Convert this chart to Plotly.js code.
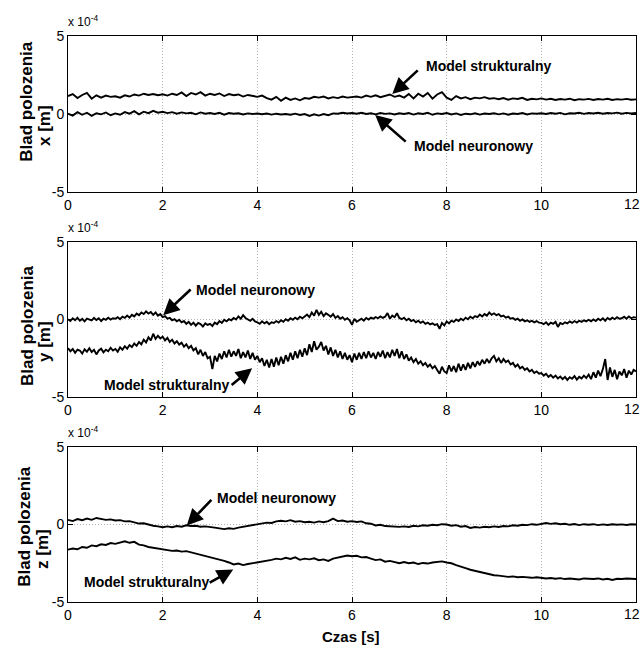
<!DOCTYPE html>
<html>
<head>
<meta charset="utf-8">
<script src="https://cdn.plot.ly/plotly-3.0.1.min.js"></script>
<style>html,body{margin:0;padding:0;background:#fff;}#chart{width:642px;height:645px;}</style>
</head>
<body>
<div id="chart"></div>
<script>
// Values in units of 1e-4 m. Panels x/z sampled every 0.1 s, panel y every 0.05 s (0..12 s).
const xStruct = [1.15,1.28,1.02,1.22,1.35,0.98,1.20,1.05,1.18,1.10,1.14,
 1.05,1.20,1.12,1.25,1.18,1.30,1.22,1.28,1.20,1.26,
 1.18,1.30,1.22,1.38,1.15,1.35,1.25,1.40,1.18,1.30,
 1.22,1.32,1.15,1.28,1.20,1.25,1.12,1.22,1.15,1.10,
 1.18,1.02,0.92,1.10,0.85,1.05,0.90,1.00,0.88,1.02,
 0.98,1.10,1.05,1.12,1.00,1.08,1.02,1.12,1.05,1.08,
 1.12,1.05,1.18,1.10,1.20,1.08,1.15,1.25,1.10,1.18,
 1.05,1.28,1.00,1.30,1.12,1.35,0.98,1.25,1.40,1.05,
 0.90,1.15,1.00,1.08,0.95,1.05,1.00,1.08,0.98,1.02,
 0.95,1.02,0.92,1.00,0.96,1.04,0.90,0.98,0.94,1.00,
 0.92,0.98,0.90,0.96,0.92,0.98,0.88,0.95,0.92,0.97,
 0.90,0.96,0.92,0.98,0.90,0.95,0.92,0.97,0.91,0.94];
const xNeuro = [0.02,-0.10,0.12,-0.05,0.08,-0.12,0.05,-0.02,0.10,-0.08,0.04,
 -0.05,0.12,0.02,0.18,-0.02,0.15,0.05,0.20,0.08,0.14,
 0.06,0.12,0.02,0.10,0.04,0.08,-0.02,0.10,0.02,0.06,
 0.00,0.08,-0.04,0.06,0.02,0.05,-0.03,0.04,0.00,0.03,
 -0.02,0.03,-0.04,0.02,-0.03,0.00,-0.05,0.02,-0.06,0.00,
 -0.12,-0.02,-0.10,0.00,-0.08,0.04,0.02,0.08,0.03,0.06,
 0.02,0.08,0.00,0.05,-0.02,0.06,0.01,0.04,-0.03,0.05,
 0.00,0.06,-0.04,0.05,0.00,0.08,-0.05,0.04,0.00,0.06,
 -0.03,0.04,-0.06,0.02,-0.02,0.05,-0.04,0.03,0.00,0.05,
 -0.02,0.04,-0.05,0.03,0.00,0.06,-0.03,0.04,0.02,0.05,
 0.00,0.06,0.02,0.07,-0.02,0.05,0.03,0.08,0.01,0.06,
 0.03,0.08,0.02,0.06,0.04,0.09,0.02,0.07,0.03,0.06];
const yNeuro = [0.02,-0.10,0.08,-0.05,0.12,-0.08,0.04,-0.12,0.06,0.00,-0.06,0.10,-0.04,0.08,-0.10,0.05,-0.02,0.12,0.00,0.08,
 0.05,0.15,0.02,0.18,0.10,0.25,0.12,0.30,0.20,0.38,0.28,0.45,0.35,0.52,0.38,0.48,0.30,0.45,0.25,0.35,
 0.15,0.22,0.05,0.10,-0.05,0.02,-0.12,-0.02,-0.18,-0.10,-0.28,-0.15,-0.35,-0.20,-0.40,-0.22,-0.30,-0.45,-0.25,-0.35,
 -0.28,-0.42,-0.20,-0.30,-0.10,-0.22,-0.02,-0.12,0.02,-0.05,0.10,0.00,0.20,0.05,0.28,0.10,0.02,-0.08,0.05,-0.12,
 -0.18,-0.28,-0.12,-0.25,-0.15,-0.30,-0.18,-0.22,-0.10,-0.20,-0.05,-0.15,0.02,-0.08,0.08,-0.02,0.12,0.02,0.18,0.08,
 0.20,0.32,0.15,0.45,0.25,0.62,0.30,0.50,0.22,0.40,0.30,0.18,0.35,0.10,0.22,0.05,0.15,-0.02,0.08,-0.05,
 -0.35,0.05,-0.15,-0.05,0.05,-0.08,0.10,0.00,0.12,0.05,0.15,0.08,0.20,0.10,0.18,0.42,0.05,0.25,0.15,0.40,
 0.10,0.02,0.12,-0.05,0.05,-0.10,-0.02,-0.18,-0.08,-0.22,-0.12,-0.28,-0.20,-0.32,-0.25,-0.35,-0.30,-0.60,-0.22,-0.38,
 -0.12,-0.25,-0.08,-0.15,0.00,-0.10,0.05,-0.05,0.12,0.02,0.18,0.08,0.22,0.15,0.32,0.20,0.35,0.25,0.45,0.30,
 0.40,0.28,0.35,0.20,0.25,0.12,0.18,0.05,0.10,-0.02,0.05,-0.08,0.00,-0.12,-0.05,-0.15,-0.08,-0.18,-0.10,-0.20,
 -0.22,-0.30,-0.18,-0.35,-0.20,-0.28,-0.15,-0.48,-0.22,-0.30,-0.18,-0.25,-0.12,-0.22,-0.10,-0.20,-0.08,-0.15,-0.05,-0.12,
 -0.02,-0.12,0.00,-0.10,0.05,-0.05,0.08,-0.08,0.10,0.00,0.12,0.02,0.15,0.05,0.08,0.18,0.05,0.20,0.08,0.15,
 0.12];
const yStruct = [-1.85,-2.05,-1.90,-2.15,-1.95,-2.00,-2.20,-1.92,-2.08,-1.85,-2.10,-1.95,-2.25,-2.00,-1.88,-2.12,-1.95,-2.05,-1.82,-2.00,
 -1.90,-2.08,-1.80,-1.95,-1.72,-1.88,-1.65,-1.78,-1.55,-1.70,-1.45,-1.60,-1.30,-1.48,-1.15,-1.35,-0.92,-1.25,-1.05,-1.22,
 -1.10,-1.35,-1.18,-1.45,-1.30,-1.55,-1.40,-1.62,-1.50,-1.75,-1.60,-1.85,-1.70,-2.00,-1.85,-2.25,-1.95,-2.35,-2.10,-2.50,
 -2.40,-3.20,-2.35,-2.70,-2.20,-2.55,-2.05,-2.45,-1.95,-2.40,-2.05,-2.35,-1.90,-2.50,-2.10,-2.45,-2.00,-2.55,-2.15,-2.60,
 -2.35,-2.75,-2.50,-3.00,-2.60,-3.10,-2.55,-3.05,-2.45,-2.95,-2.40,-2.85,-2.30,-2.70,-2.15,-2.60,-2.05,-2.50,-1.95,-2.40,
 -1.85,-2.30,-1.60,-2.10,-1.40,-1.95,-1.75,-1.45,-2.00,-1.70,-2.25,-1.80,-2.35,-1.95,-2.45,-2.05,-2.55,-2.15,-2.60,-2.30,
 -2.75,-2.20,-2.60,-2.15,-2.55,-2.10,-2.50,-2.05,-2.45,-2.15,-2.55,-2.10,-2.40,-2.00,-2.50,-2.10,-2.45,-1.95,-2.35,-1.90,
 -2.50,-2.05,-2.55,-2.25,-2.65,-2.45,-2.75,-2.55,-2.85,-2.70,-2.95,-2.80,-3.05,-2.90,-3.15,-3.00,-3.25,-3.50,-3.05,-3.35,
 -3.45,-2.95,-3.35,-3.00,-3.40,-2.85,-3.30,-2.90,-3.25,-2.80,-3.15,-2.75,-3.05,-2.70,-2.95,-2.60,-2.85,-2.55,-2.80,-2.50,
 -2.35,-2.70,-2.50,-2.80,-2.55,-2.75,-2.65,-2.90,-2.80,-3.05,-2.90,-3.15,-3.05,-3.25,-3.15,-3.35,-3.25,-3.45,-3.35,-3.50,
 -3.45,-3.62,-3.50,-3.70,-3.58,-3.75,-3.62,-3.80,-3.68,-3.85,-3.70,-3.90,-3.72,-3.82,-3.65,-3.88,-3.70,-3.80,-3.62,-3.78,
 -3.55,-3.85,-3.40,-3.75,-3.30,-3.65,-3.20,-2.55,-3.90,-3.10,-3.70,-3.25,-3.85,-3.35,-3.60,-3.20,-3.75,-3.30,-3.55,-3.25,
 -3.35];
const zNeuro = [0.30,0.22,0.35,0.28,0.38,0.30,0.42,0.35,0.30,0.33,0.26,
 0.28,0.20,0.22,0.12,0.06,0.08,-0.02,-0.08,-0.12,-0.18,
 -0.12,-0.18,-0.10,-0.14,-0.05,-0.10,-0.08,-0.14,-0.12,-0.18,
 -0.20,-0.25,-0.30,-0.24,-0.28,-0.20,-0.14,-0.08,-0.04,0.04,
 0.06,0.12,0.10,0.20,0.24,0.20,0.28,0.18,0.22,0.15,
 0.18,0.12,0.20,0.15,0.22,0.38,0.22,0.26,0.18,0.22,
 0.16,0.20,0.08,0.05,-0.06,-0.02,-0.10,-0.12,-0.16,-0.15,
 -0.12,-0.16,-0.08,-0.12,-0.05,-0.08,-0.02,-0.05,0.02,0.00,
 -0.08,-0.04,-0.14,-0.10,-0.22,-0.16,-0.20,-0.15,-0.18,-0.12,
 -0.16,-0.10,-0.12,-0.05,-0.08,-0.02,-0.04,0.02,-0.02,0.06,
 0.10,0.04,0.08,0.02,0.05,-0.02,0.03,-0.04,0.02,-0.02,
 0.02,-0.04,0.01,-0.03,0.02,-0.02,0.01,-0.03,0.02,0.00];
const zStruct = [-1.62,-1.55,-1.60,-1.45,-1.50,-1.35,-1.40,-1.28,-1.32,-1.20,-1.25,
 -1.15,-1.08,-1.18,-1.12,-1.30,-1.35,-1.45,-1.50,-1.58,-1.62,
 -1.65,-1.70,-1.68,-1.75,-1.72,-1.80,-1.85,-1.92,-2.00,-2.10,
 -2.18,-2.28,-2.35,-2.45,-2.58,-2.52,-2.62,-2.55,-2.50,-2.48,
 -2.40,-2.35,-2.28,-2.20,-2.25,-2.15,-2.22,-2.12,-2.28,-2.20,
 -2.25,-2.18,-2.30,-2.25,-2.35,-2.20,-2.15,-2.08,-2.00,-2.05,
 -2.02,-2.12,-2.10,-2.20,-2.30,-2.25,-2.40,-2.35,-2.45,-2.50,
 -2.42,-2.50,-2.45,-2.55,-2.48,-2.52,-2.45,-2.42,-2.38,-2.45,
 -2.50,-2.62,-2.70,-2.82,-2.92,-3.00,-3.08,-3.15,-3.22,-3.27,
 -3.30,-3.32,-3.38,-3.35,-3.40,-3.38,-3.42,-3.44,-3.40,-3.45,
 -3.48,-3.45,-3.50,-3.46,-3.52,-3.48,-3.50,-3.55,-3.48,-3.50,
 -3.52,-3.48,-3.55,-3.50,-3.58,-3.50,-3.52,-3.48,-3.50,-3.52];

const yTicks = [-5, 0, 5];
const yTickText = ['-5', '0', '5'];
const xTicks = [0, 2, 4, 6, 8, 10, 12];
const xTickText = ['0', '2', '4', '6', '8', '10', ''];   // last label "12" drawn right-aligned at the page edge
const lastXLabel = '12';
const axisLabels = ['x [m]', 'y [m]', 'z [m]'];
const yTitle = 'Blad polozenia';
const labelStruct = 'Model strukturalny';
const labelNeuro = 'Model neuronowy';

const SANS = 'Liberation Sans, Arial, sans-serif';
const W = 642, H = 645;
const px = v => v / W;
const py = v => 1 - v / H;

const line = {color: '#000', width: 1.9};
const traces = [
  {y: xStruct, x0: 0, dx: 0.1, xaxis: 'x', yaxis: 'y'},
  {y: xNeuro, x0: 0, dx: 0.1, xaxis: 'x', yaxis: 'y'},
  {y: yNeuro, x0: 0, dx: 0.05, xaxis: 'x2', yaxis: 'y2'},
  {y: yStruct, x0: 0, dx: 0.05, xaxis: 'x2', yaxis: 'y2'},
  {y: zNeuro, x0: 0, dx: 0.1, xaxis: 'x3', yaxis: 'y3'},
  {y: zStruct, x0: 0, dx: 0.1, xaxis: 'x3', yaxis: 'y3'}
].map(t => Object.assign({type: 'scatter', mode: 'lines', line: line, hoverinfo: 'skip'}, t));

const xdom = [px(68), px(636)];
const tickFont = {family: SANS, size: 14, color: '#000'};
const common = {
  showline: true, linecolor: '#000', linewidth: 1, mirror: 'allticks',
  ticks: 'inside', ticklen: 5, tickcolor: '#000', tickwidth: 1,
  showgrid: true, gridcolor: '#b4b4b4', griddash: '1px,2px', gridwidth: 1,
  zeroline: false, fixedrange: true, ticklabeloverflow: 'allow',
  tickfont: tickFont
};
function xa(anchor) {
  return Object.assign({}, common, {domain: xdom, range: [0, 12], tickvals: xTicks, ticktext: xTickText, anchor: anchor});
}
function ya(anchor, top, bottom) {
  return Object.assign({}, common, {domain: [py(bottom), py(top)], range: [-5, 5], tickvals: yTicks, ticktext: yTickText, anchor: anchor});
}

const panels = [
  {top: 36, bottom: 192},
  {top: 242, bottom: 397},
  {top: 447, bottom: 602}
];

const annotations = [];
const titlePos = [
  {l1: [27, 101.7], l2: [44, 125]},
  {l1: [27, 326], l2: [44, 341]},
  {l1: [25, 526.7], l2: [42, 549]}
];
titlePos.forEach((p, i) => {
  annotations.push({xref: 'paper', yref: 'paper', x: px(p.l1[0]), y: py(p.l1[1]), text: '<b>' + yTitle + '</b>',
    textangle: -90, showarrow: false, xanchor: 'center', yanchor: 'middle', font: {family: SANS, size: 17, color: '#000'}});
  annotations.push({xref: 'paper', yref: 'paper', x: px(p.l2[0]), y: py(p.l2[1]), text: '<b>' + axisLabels[i] + '</b>',
    textangle: -90, showarrow: false, xanchor: 'center', yanchor: 'middle', font: {family: SANS, size: 17, color: '#000'}});
  annotations.push({xref: 'paper', yref: 'paper', x: px(66), y: py(panels[i].top - 5), text: 'x 10<sup>-4</sup>',
    showarrow: false, xanchor: 'left', yanchor: 'bottom', font: {family: SANS, size: 12, color: '#000'}});
  annotations.push({xref: 'paper', yref: 'paper', x: px(641), y: py(panels[i].bottom + 12), text: lastXLabel,
    showarrow: false, xanchor: 'right', yanchor: 'middle', borderpad: 0, font: tickFont});
});
annotations.push({xref: 'paper', yref: 'paper', x: px(351), y: py(636), text: '<b>Czas [s]</b>', showarrow: false,
  xanchor: 'center', yanchor: 'middle', font: {family: SANS, size: 15, color: '#000'}});

const arrows = [
  {xr: 'x', yr: 'y', hx: 6.85, hy: 1.28, ax: 27, ay: -25, tx: 7.52, ty: 3.08, text: labelStruct},
  {xr: 'x', yr: 'y', hx: 6.49, hy: -0.06, ax: 32, ay: 28, tx: 7.27, ty: -2.05, text: labelNeuro},
  {xr: 'x2', yr: 'y2', hx: 2.01, hy: 0.28, ax: 29, ay: -27, tx: 2.66, ty: 1.89, text: labelNeuro},
  {xr: 'x2', yr: 'y2', hx: 3.89, hy: -3.14, ax: -22, ay: 18, tx: 0.72, ty: -4.24, text: labelStruct},
  {xr: 'x3', yr: 'y3', hx: 2.51, hy: -0.06, ax: 26, ay: -27, tx: 3.11, ty: 1.68, text: labelNeuro},
  {xr: 'x3', yr: 'y3', hx: 3.49, hy: -2.9, ax: -25, ay: 14, tx: 0.30, ty: -3.68, text: labelStruct}
];
arrows.forEach(a => {
  annotations.push({xref: a.xr, yref: a.yr, x: a.hx, y: a.hy, ax: a.ax, ay: a.ay, text: '', showarrow: true,
    arrowhead: 2, arrowsize: 1.25, arrowwidth: 2.6, arrowcolor: '#000', standoff: 0, startstandoff: 0});
  annotations.push({xref: a.xr, yref: a.yr, x: a.tx, y: a.ty, text: '<b>' + a.text + '</b>', showarrow: false,
    xanchor: 'left', yanchor: 'middle', font: {family: SANS, size: 14, color: '#000'}});
});

const layout = {
  width: W, height: H,
  margin: {l: 0, r: 0, t: 0, b: 0},
  paper_bgcolor: '#fff', plot_bgcolor: '#fff',
  showlegend: false,
  xaxis: xa('y'), yaxis: ya('x', panels[0].top, panels[0].bottom),
  xaxis2: xa('y2'), yaxis2: ya('x2', panels[1].top, panels[1].bottom),
  xaxis3: xa('y3'), yaxis3: ya('x3', panels[2].top, panels[2].bottom),
  annotations: annotations
};

Plotly.newPlot('chart', traces, layout, {displayModeBar: false, staticPlot: true});
</script>
</body>
</html>
